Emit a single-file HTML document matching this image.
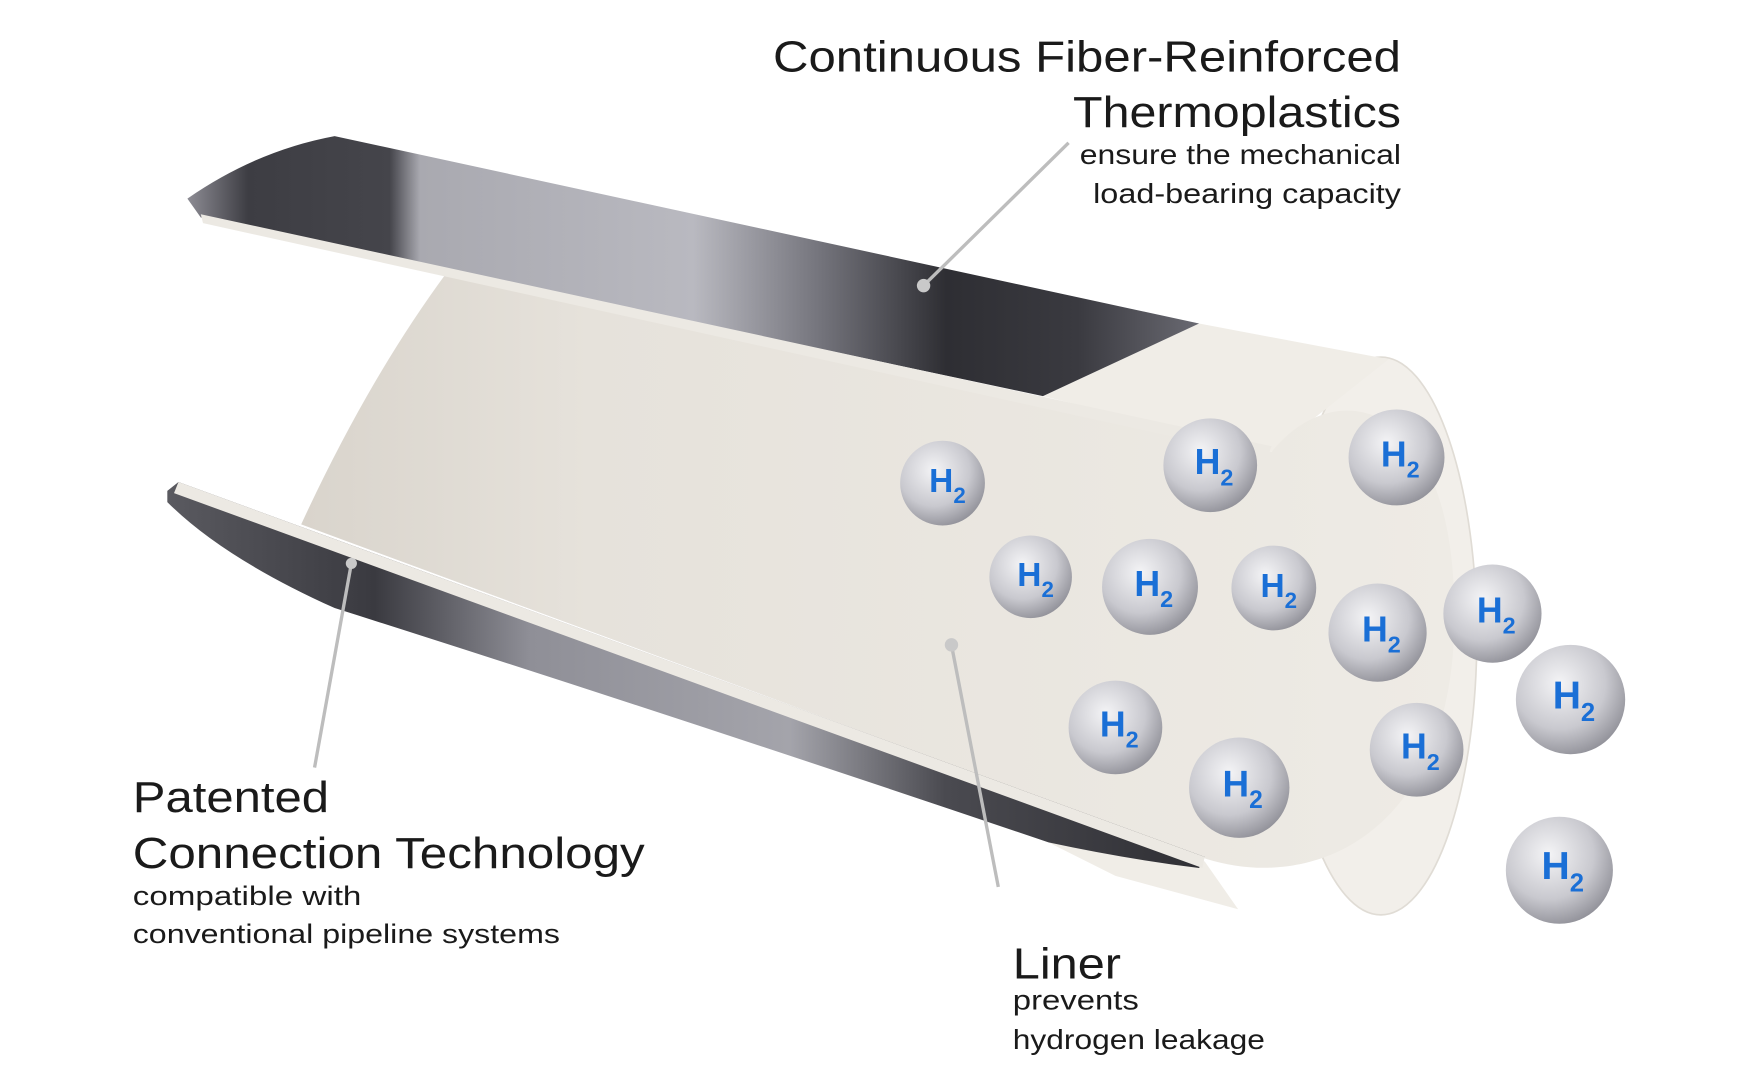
<!DOCTYPE html>
<html><head><meta charset="utf-8"><style>
html,body{margin:0;padding:0;background:#fff;width:1749px;height:1080px;overflow:hidden}
svg{display:block}
text{font-family:"Liberation Sans","DejaVu Sans",sans-serif;fill:#1a1a1a}
</style></head><body>
<svg width="1749" height="1080" viewBox="0 0 1568 968" preserveAspectRatio="none">
<defs>
<radialGradient id="sph" cx="40%" cy="35%" r="70%">
<stop offset="0" stop-color="#f4f4f6"/><stop offset="0.6" stop-color="#c9c9cf"/><stop offset="1" stop-color="#8e8e96"/>
</radialGradient>
<linearGradient id="inner" x1="0" y1="0" x2="1" y2="0">
<stop offset="0" stop-color="#d9d4cc"/><stop offset="0.25" stop-color="#e6e2db"/><stop offset="1" stop-color="#eeebe5"/>
</linearGradient>
<linearGradient id="fibT" x1="0" y1="0" x2="1" y2="0">
<stop offset="0" stop-color="#8d8c94"/><stop offset="0.06" stop-color="#3d3d43"/><stop offset="0.2" stop-color="#45454b"/>
<stop offset="0.23" stop-color="#a9a9b0"/><stop offset="0.5" stop-color="#b9b9c0"/><stop offset="0.62" stop-color="#77777f"/>
<stop offset="0.75" stop-color="#2e2e33"/><stop offset="0.88" stop-color="#3a3a40"/><stop offset="1" stop-color="#6a6a72"/>
</linearGradient>
<linearGradient id="fibB" x1="0" y1="0" x2="1" y2="0">
<stop offset="0" stop-color="#5a5a60"/><stop offset="0.2" stop-color="#3a3a40"/><stop offset="0.35" stop-color="#8f8f97"/>
<stop offset="0.6" stop-color="#a4a4ab"/><stop offset="0.75" stop-color="#4a4a50"/><stop offset="1" stop-color="#2f2f34"/>
</linearGradient>
</defs>
<!-- outer end ellipse -->
<ellipse cx="1238" cy="570" rx="86" ry="250" fill="#f2efea" stroke="#e0dcd5" stroke-width="1.5"/>
<!-- outer surface wedges -->
<polygon points="935,355 1075,290 1245,322 1140,405" fill="#f0ede7"/>
<polygon points="940,755 1080,772 1110,815 1000,785" fill="#f0ede7"/>
<!-- inner liner body -->
<path d="M400,245 L1140,405 C1200,330 1315,360 1303,580 C1292,745 1180,800 1082,770 L270,470 Q330,340 400,245 Z" fill="url(#inner)"/>
<!-- bottom fiber -->
<path d="M150,440 L160,432 L1080,768 L1075,778 Q1010,770 940,755 Q600,640 300,545 Q200,500 150,450 Z" fill="url(#fibB)"/>
<path d="M160,432 L1080,768 L1078,778 L156,442 Z" fill="#ece9e3"/>
<!-- top fiber -->
<path d="M168,178 Q230,135 300,122 L1075,290 L935,355 L180,195 Z" fill="url(#fibT)"/>
<path d="M180,192 L1140,400 L1136,410 L182,200 Z" fill="#ece9e3"/>
<!-- leader lines -->
<g stroke="#bdbdbd" stroke-width="3">
<line x1="958" y1="128" x2="828" y2="256"/><line x1="853" y1="578" x2="895" y2="795"/><line x1="315" y1="505" x2="282" y2="688"/>
</g>
<g fill="#c9c9c9"><circle cx="828" cy="256" r="6"/><circle cx="853" cy="578" r="6"/><circle cx="315" cy="505" r="5"/></g>
<!-- spheres -->
<g font-weight="bold">
<g transform="translate(845,433)"><circle r="38" fill="url(#sph)"/><text x="-12" y="8" font-size="30" style="fill:#1a6fd6">H<tspan font-size="20" dy="10">2</tspan></text></g>
<g transform="translate(1085,417)"><circle r="42" fill="url(#sph)"/><text x="-14" y="8" font-size="32" style="fill:#1a6fd6">H<tspan font-size="21" dy="10">2</tspan></text></g>
<g transform="translate(1252,410)"><circle r="43" fill="url(#sph)"/><text x="-14" y="8" font-size="32" style="fill:#1a6fd6">H<tspan font-size="21" dy="10">2</tspan></text></g>
<g transform="translate(924,517)"><circle r="37" fill="url(#sph)"/><text x="-12" y="8" font-size="30" style="fill:#1a6fd6">H<tspan font-size="20" dy="10">2</tspan></text></g>
<g transform="translate(1031,526)"><circle r="43" fill="url(#sph)"/><text x="-14" y="8" font-size="32" style="fill:#1a6fd6">H<tspan font-size="21" dy="10">2</tspan></text></g>
<g transform="translate(1142,527)"><circle r="38" fill="url(#sph)"/><text x="-12" y="8" font-size="30" style="fill:#1a6fd6">H<tspan font-size="20" dy="10">2</tspan></text></g>
<g transform="translate(1235,567)"><circle r="44" fill="url(#sph)"/><text x="-14" y="8" font-size="32" style="fill:#1a6fd6">H<tspan font-size="21" dy="10">2</tspan></text></g>
<g transform="translate(1338,550)"><circle r="44" fill="url(#sph)"/><text x="-14" y="8" font-size="32" style="fill:#1a6fd6">H<tspan font-size="21" dy="10">2</tspan></text></g>
<g transform="translate(1408,627)"><circle r="49" fill="url(#sph)"/><text x="-16" y="8" font-size="35" style="fill:#1a6fd6">H<tspan font-size="23" dy="11">2</tspan></text></g>
<g transform="translate(1000,652)"><circle r="42" fill="url(#sph)"/><text x="-14" y="8" font-size="32" style="fill:#1a6fd6">H<tspan font-size="21" dy="10">2</tspan></text></g>
<g transform="translate(1270,672)"><circle r="42" fill="url(#sph)"/><text x="-14" y="8" font-size="32" style="fill:#1a6fd6">H<tspan font-size="21" dy="10">2</tspan></text></g>
<g transform="translate(1111,706)"><circle r="45" fill="url(#sph)"/><text x="-15" y="8" font-size="33" style="fill:#1a6fd6">H<tspan font-size="22" dy="10">2</tspan></text></g>
<g transform="translate(1398,780)"><circle r="48" fill="url(#sph)"/><text x="-16" y="8" font-size="35" style="fill:#1a6fd6">H<tspan font-size="23" dy="11">2</tspan></text></g>
</g>
<!-- labels -->
<g text-anchor="end">
<text x="1256" y="64" font-size="39" textLength="563" lengthAdjust="spacingAndGlyphs">Continuous Fiber-Reinforced</text>
<text x="1256" y="114" font-size="39" textLength="294" lengthAdjust="spacingAndGlyphs">Thermoplastics</text>
<text x="1256" y="147" font-size="25" textLength="288" lengthAdjust="spacingAndGlyphs">ensure the mechanical</text>
<text x="1256" y="182" font-size="25" textLength="276" lengthAdjust="spacingAndGlyphs">load-bearing capacity</text>
</g>
<text x="119" y="728" font-size="39" textLength="176" lengthAdjust="spacingAndGlyphs">Patented</text>
<text x="119" y="778" font-size="39" textLength="459" lengthAdjust="spacingAndGlyphs">Connection Technology</text>
<text x="119" y="811" font-size="24" textLength="205" lengthAdjust="spacingAndGlyphs">compatible with</text>
<text x="119" y="845" font-size="24" textLength="383" lengthAdjust="spacingAndGlyphs">conventional pipeline systems</text>
<text x="908" y="877" font-size="39" textLength="97" lengthAdjust="spacingAndGlyphs">Liner</text>
<text x="908" y="905" font-size="25" textLength="113" lengthAdjust="spacingAndGlyphs">prevents</text>
<text x="908" y="940" font-size="25" textLength="226" lengthAdjust="spacingAndGlyphs">hydrogen leakage</text>
</svg>
</body></html>
